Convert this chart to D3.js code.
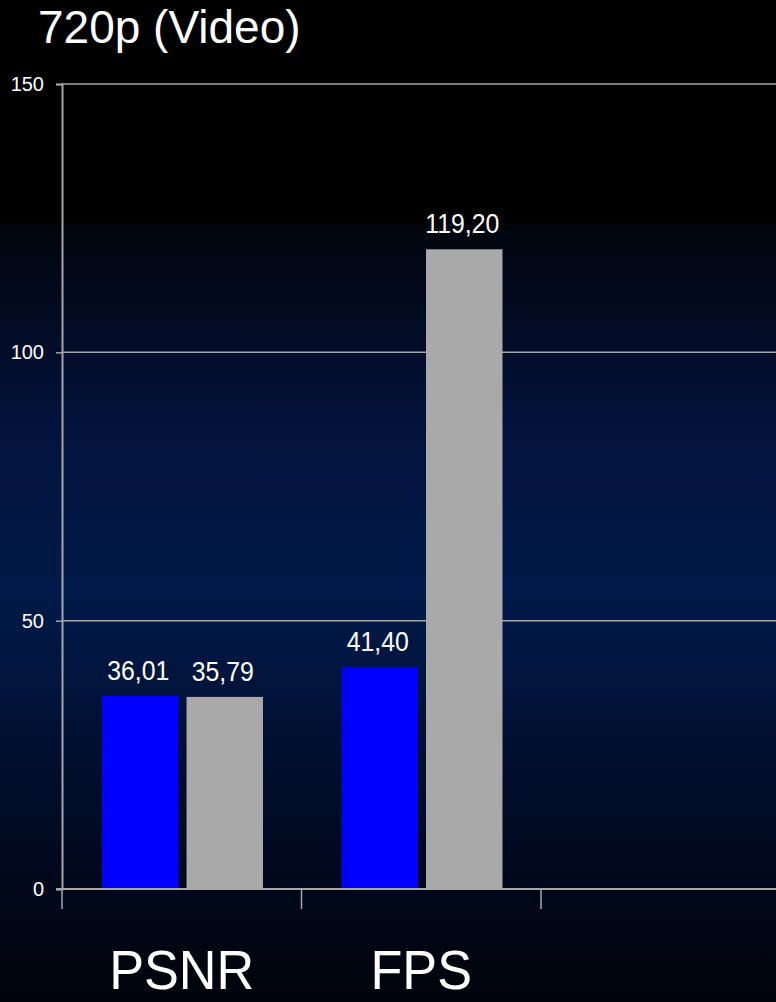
<!DOCTYPE html>
<html><head><meta charset="utf-8">
<script src="https://cdn.jsdelivr.net/npm/d3@7"></script>
<style>html,body{margin:0;padding:0;background:#000;}svg{display:block;}</style>
</head><body>
<script>
const categories = ["PSNR", "FPS", ""];
const seriesBlue = [36.01, 41.40, null];
const seriesGray = [35.79, 119.20, null];
const valueLabelsBlue = ["36,01", "41,40", ""];
const valueLabelsGray = ["35,79", "119,20", ""];
const yTicks = [0, 50, 100, 150];
const title = "720p (Video)";

const W = 776, H = 1002;
const svg = d3.select("body").append("svg").attr("width", W).attr("height", H);
const defs = svg.append("defs");
const grad = defs.append("linearGradient").attr("id","bg")
  .attr("gradientUnits","userSpaceOnUse").attr("y1",0).attr("y2",H).attr("x1",0).attr("x2",0);
[[0,"#000000"],[222,"#000000"],[226,"#02050d"],[420,"#03123a"],[590,"#021a4a"],[660,"#011640"],[780,"#010d2a"],[1002,"#00030a"]]
  .forEach(([o,c]) => grad.append("stop").attr("offset", o/H).attr("stop-color", c));
svg.append("rect").attr("width",W).attr("height",H).attr("fill","url(#bg)");

const x0 = 62, xEnd = 780.5;
const y = d3.scaleLinear().domain([0,150]).range([889, 84]);
const x = d3.scaleBand().domain(categories).range([x0, xEnd]).paddingInner(0).paddingOuter(0);
const inner = d3.scaleBand().domain(["a","b"]).range([40, 40 + 161]).paddingInner(0.095);

// gridlines
svg.append("g").selectAll("line").data(yTicks.filter(t=>t>0)).join("line")
  .attr("x1", x0).attr("x2", W).attr("y1", d=>y(d)).attr("y2", d=>y(d))
  .attr("stroke","#a6a6a6").attr("stroke-width",1.5);

// bars
const g = svg.append("g");
categories.forEach((c,i) => {
  [[seriesBlue[i],"#0000ff","a",valueLabelsBlue[i]],[seriesGray[i],"#a9a9a9","b",valueLabelsGray[i]]].forEach(([v,col,k,lab]) => {
    if (v == null) return;
    const bx = x(c) + inner(k);
    const cx = bx + inner.bandwidth()/2 - 2;
    g.append("rect").attr("x", bx).attr("y", y(v)).attr("width", inner.bandwidth()).attr("height", y(0)-y(v)).attr("fill", col);
    g.append("text").attr("x", cx).attr("y", y(v) - 16)
      .attr("text-anchor","middle").attr("fill","#ffffff")
      .attr("font-family","Liberation Sans, Arial, sans-serif").attr("font-size",27)
      .attr("transform", `translate(${cx},0) scale(0.92,1) translate(${-cx},0)`)
      .text(lab);
  });
});

// y axis
const yAxis = d3.axisLeft(y).tickValues(yTicks).tickSize(6).tickPadding(12).tickFormat(d3.format("d"));
const ya = svg.append("g").attr("transform",`translate(${x0},0)`).call(yAxis);
ya.select(".domain").attr("stroke","#a6a6a6").attr("stroke-width",2);
ya.selectAll(".tick line").attr("stroke","#a6a6a6").attr("stroke-width",1.5);
ya.selectAll(".tick text").attr("fill","#ffffff").attr("font-family","Liberation Sans, Arial, sans-serif").attr("font-size",20);

// x axis
const xa = svg.append("g").attr("transform",`translate(0,${y(0)})`);
xa.append("line").attr("x1", x0-6).attr("x2", W).attr("y1",0).attr("y2",0).attr("stroke","#a6a6a6").attr("stroke-width",2);
xa.selectAll("line.tk").data(categories).join("line").attr("class","tk")
  .attr("x1", d=>x(d)).attr("x2", d=>x(d)).attr("y1",0).attr("y2",20)
  .attr("stroke","#a6a6a6").attr("stroke-width",1.5);
xa.selectAll("text").data(categories).join("text")
  .attr("x", d=>x(d)+x.bandwidth()/2).attr("y", 100)
  .attr("text-anchor","middle").attr("fill","#ffffff")
  .attr("font-family","Liberation Sans, Arial, sans-serif").attr("font-size",55)
  .attr("transform", d => { const cx = x(d)+x.bandwidth()/2; return `translate(${cx},0) scale(0.95,1) translate(${-cx},0)`; })
  .text(d=>d);

// title
svg.append("text").attr("x",38).attr("y",43).attr("fill","#ffffff")
  .attr("font-family","Liberation Sans, Arial, sans-serif").attr("font-size",46).text(title);
</script>
</body></html>
